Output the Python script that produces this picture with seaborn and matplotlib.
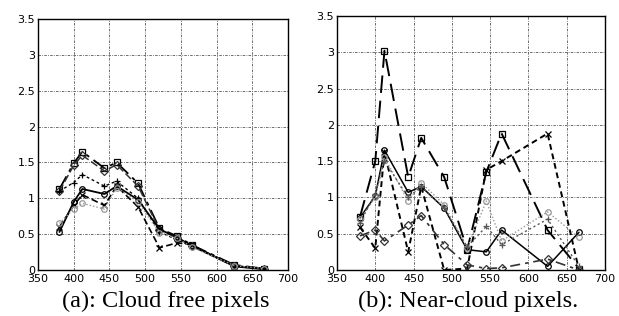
import matplotlib
matplotlib.use("Agg")
import matplotlib.pyplot as plt
import seaborn as sns
import pandas as pd
import numpy as np

# wavelengths (nm) of the bands
wl = [380, 400, 412, 443, 460, 490, 520, 545, 565, 625, 666]

# (a) cloud free pixels
a_s1 = [1.13, 1.49, 1.65, 1.42, 1.50, 1.21, 0.58, 0.47, 0.35, 0.07, 0.02]
a_s2 = [1.10, 1.46, 1.60, 1.38, 1.47, 1.17, 0.56, 0.45, 0.34, 0.06, 0.02]
a_s3 = [1.10, 1.22, 1.33, 1.17, 1.24, 1.00, 0.53, 0.42, 0.33, 0.06, 0.02]
a_s4 = [0.53, 0.95, 1.13, 1.06, 1.17, 0.98, 0.57, 0.45, 0.34, 0.05, 0.01]
a_s5 = [0.60, 0.90, 1.05, 0.90, 1.17, 0.88, 0.31, 0.38, 0.35, 0.05, 0.02]
a_s6 = [0.65, 0.85, 0.93, 0.85, 1.15, 0.95, 0.52, 0.44, 0.32, 0.06, 0.02]

# (b) near-cloud pixels
b_s1 = [0.73, 1.50, 3.02, 1.28, 1.82, 1.28, 0.28, 1.35, 1.88, 0.55, 0.02]
b_s2 = [0.59, 0.30, 1.62, 0.25, 1.15, 0.00, 0.02, 1.38, 1.50, 1.88, 0.00]
b_s3 = [0.72, 1.02, 1.65, 1.07, 1.15, 0.85, 0.28, 0.25, 0.55, 0.05, 0.52]
b_s4 = [0.47, 0.55, 0.40, 0.62, 0.75, 0.35, 0.07, 0.02, 0.03, 0.15, 0.00]
b_s5 = [0.70, 1.00, 1.55, 0.95, 1.20, 0.90, 0.30, 0.95, 0.40, 0.80, 0.45]
b_s6 = [0.65, 1.05, 1.50, 1.00, 1.15, 0.85, 0.32, 0.60, 0.35, 0.70, 0.05]

x_ticks = [350, 400, 450, 500, 550, 600, 650, 700]
y_ticks = [0, 0.5, 1, 1.5, 2, 2.5, 3, 3.5]
y_labels = ["0", "0.5", "1", "1.5", "2", "2.5", "3", "3.5"]
captions = ["(a): Cloud free pixels", "(b): Near-cloud pixels."]

# line look for each series: (dashes, marker, colour, linewidth)
looks_a = [
    ((8, 3, 2, 3), "s", "black", 1.3),
    ((5, 2), "D", "#333333", 1.1),
    ((2, 2), "+", "black", 1.0),
    ("", "o", "black", 1.3),
    ((4, 2), "x", "black", 1.2),
    ((1, 1.5), "o", "#999999", 1.0),
]
looks_b = [
    ((9, 4), "s", "black", 1.4),
    ((3, 2), "x", "black", 1.4),
    ("", "o", "black", 1.1),
    ((6, 3, 2, 3), "D", "#333333", 1.2),
    ((1, 1.5), "o", "#999999", 1.0),
    ((1.5, 2), "+", "#555555", 1.0),
]

sns.set_style("whitegrid")
plt.rcParams["font.family"] = ["DejaVu Sans"]
plt.rcParams["text.color"] = "black"

fig = plt.figure(figsize=(6.19, 3.16), dpi=100)
ax_a = fig.add_axes([0.0614, 0.1456, 0.404, 0.794])
ax_b = fig.add_axes([0.5444, 0.1456, 0.433, 0.804])

panels = [(ax_a, [a_s1, a_s2, a_s3, a_s4, a_s5, a_s6], looks_a, 0.267),
          (ax_b, [b_s1, b_s2, b_s3, b_s4, b_s5, b_s6], looks_b, 0.756)]

for (ax, series, looks, cx), cap in zip(panels, captions):
    for vals, (dash, mk, col, lw) in zip(series, looks):
        df = pd.DataFrame({"wl": wl, "v": vals})
        sns.lineplot(data=df, x="wl", y="v", ax=ax, color=col, lw=lw,
                     marker=mk, markersize=4, markerfacecolor="none",
                     markeredgecolor=col, markeredgewidth=0.9)
        if dash:
            ax.lines[-1].set_dashes(dash)
    ax.set_xlim(350, 700)
    ax.set_ylim(0, 3.5)
    ax.set_xticks(x_ticks)
    ax.set_yticks(y_ticks)
    ax.set_yticklabels(y_labels)
    ax.set_xlabel("")
    ax.set_ylabel("")
    ax.tick_params(labelsize=8, length=0, colors="black")
    ax.tick_params(axis="x", pad=3)
    ax.tick_params(axis="y", pad=2)
    ax.grid(True, color="#555555", linestyle=(0, (3, 1.5, 1, 1.5)), linewidth=0.6)
    for sp in ax.spines.values():
        sp.set_color("black")
        sp.set_linewidth(1.0)
    fig.text(cx, 0.047, cap, ha="center", va="center", color="black",
             fontsize=17.5, family="Liberation Serif")

# fragment of the line above, cut by the page edge
fig.text(0.568, 1.012, "p    y", ha="left", va="baseline", fontsize=12,
         color="black", family="Liberation Serif")

fig.savefig("out.png", dpi=100)
